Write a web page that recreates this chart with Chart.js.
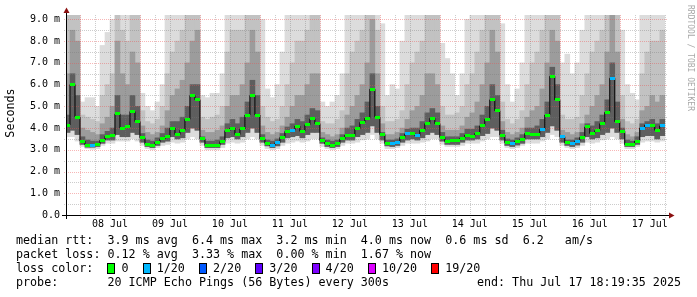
<!DOCTYPE html>
<html><head><meta charset="utf-8">
<script src="https://cdn.jsdelivr.net/npm/chart.js@4/dist/chart.umd.min.js"></script>
<style>html,body{margin:0;padding:0;background:#fff}#wrap{width:697px;height:297px;position:relative}</style>
</head><body><div id="wrap"><canvas id="c"></canvas></div>
<script>
// hours since 08 Jul 00:00 (bucket centres, 2 h buckets)
const hours = [
-5,-3,-1,1,3,5,7,9,11,13,15,17,
19,21,23,25,27,29,31,33,35,37,39,41,
43,45,47,49,51,53,55,57,59,61,63,65,
67,69,71,73,75,77,79,81,83,85,87,89,
91,93,95,97,99,101,103,105,107,109,111,113,
115,117,119,121,123,125,127,129,131,133,135,137,
139,141,143,145,147,149,151,153,155,157,159,161,
163,165,167,169,171,173,175,177,179,181,183,185,
187,189,191,193,195,197,199,201,203,205,207,209,
211,213,215,217,219,221,223,225,227,229,231,233];
// median rtt (ms)
const median = [
4.14,6.0,4.5,3.4,3.22,3.22,3.25,3.45,3.62,3.65,4.65,4.0,
4.05,4.76,4.3,3.55,3.25,3.21,3.35,3.5,3.6,4.0,3.7,3.9,
4.4,5.5,5.3,3.5,3.2,3.19,3.2,3.38,3.88,4.0,3.7,3.96,
4.6,5.5,4.6,3.5,3.3,3.19,3.32,3.57,3.84,3.9,4.09,3.85,
4.15,4.42,4.2,3.43,3.27,3.19,3.27,3.5,3.68,3.65,3.96,4.26,
4.45,5.79,4.5,3.7,3.29,3.27,3.35,3.57,3.73,3.75,3.65,3.9,
4.2,4.45,4.2,3.57,3.38,3.42,3.43,3.53,3.68,3.62,3.75,4.1,
4.4,5.3,4.8,3.68,3.33,3.27,3.4,3.47,3.75,3.72,3.7,3.95,
4.6,6.38,5.3,3.6,3.32,3.28,3.4,3.57,4.05,3.75,3.88,4.2,
4.72,6.29,4.3,3.85,3.24,3.24,3.4,4.0,4.14,4.1,3.9,4.1];
// loss level index (0 = 0/20, 1 = 1/20 ...)
const loss = [
0,0,0,0,0,1,0,0,0,0,0,0,
0,0,0,0,0,0,0,0,0,0,0,0,
0,0,0,0,0,0,0,0,0,0,0,0,
0,0,0,0,0,1,1,0,0,1,0,0,
0,0,0,0,0,0,0,0,0,0,0,0,
0,0,0,0,0,1,1,0,1,0,1,0,
0,0,0,0,0,0,0,0,0,0,0,0,
0,0,0,0,0,1,0,0,0,0,0,1,
0,0,0,1,0,1,1,0,0,0,0,0,
0,1,0,0,0,0,0,1,1,0,0,1];
// smoke envelope (ms)
const smokeTop = [
9.2,9.2,9.2,5.2,5.4,5.4,5.0,7.8,8.4,9.0,9.2,9.2,
9.2,9.2,9.2,5.6,5.0,4.8,5.2,6.0,9.2,9.2,9.2,9.2,
9.2,9.2,9.2,5.5,5.4,5.6,5.6,6.5,9.2,9.2,9.2,9.2,
9.2,9.2,9.2,9.0,5.8,5.4,6.0,7.5,9.2,9.2,9.2,9.2,
9.2,9.2,9.2,5.2,5.0,5.2,5.5,6.5,9.2,9.2,9.2,9.2,
9.2,9.2,9.2,8.8,5.5,6.0,5.8,8.0,9.2,9.2,9.2,9.2,
9.2,9.2,9.2,7.9,7.2,6.5,5.5,6.5,9.0,9.2,9.2,9.2,
9.2,9.2,9.2,8.8,6.0,5.2,5.8,7.0,9.2,9.2,9.2,9.2,
9.2,9.2,9.2,7.0,7.4,6.5,7.0,8.5,9.2,9.2,9.2,9.2,
9.2,9.2,9.2,8.5,6.0,5.6,5.3,9.2,9.2,9.2,9.2,9.2];
const smokeHi2 = [
9.2,9.2,9.2,4.6,4.5,4.4,4.3,5.5,6.0,6.5,9.2,8.5,
8.0,9.2,9.2,4.8,4.3,4.2,4.4,5.0,6.5,7.5,8.0,8.5,
9.2,9.2,9.2,4.5,4.4,4.5,4.6,5.0,7.5,8.5,8.5,8.5,
9.2,9.2,9.2,5.0,4.5,4.3,4.4,5.0,6.0,7.0,8.0,8.0,
8.5,9.2,9.2,4.3,4.2,4.2,4.4,4.8,6.5,7.5,8.0,8.5,
9.2,9.2,8.5,5.0,4.3,4.3,4.4,4.8,6.0,7.0,7.5,8.0,
9.2,9.2,9.2,5.0,4.6,4.6,4.7,5.0,6.0,6.5,7.5,8.5,
9.2,9.2,9.2,5.2,4.4,4.2,4.4,4.8,6.0,7.0,7.5,8.5,
9.2,9.2,9.2,4.6,4.4,4.4,4.5,5.5,6.5,7.5,8.0,8.5,
9.2,9.2,9.2,5.5,4.3,4.2,4.4,6.5,7.5,8.0,8.0,8.5];
const smokeHi3 = [
6.5,8.5,8.0,4.0,3.9,3.8,3.7,4.2,4.5,5.0,8.0,6.5,
6.0,7.5,7.0,4.1,3.8,3.7,3.8,4.1,4.8,5.5,5.8,6.2,
7.0,8.0,8.5,3.9,3.8,3.8,3.9,4.1,5.0,5.5,5.5,6.0,
7.0,8.5,7.5,4.1,3.8,3.7,3.8,4.1,4.5,5.0,5.5,5.5,
6.0,6.5,6.5,3.8,3.7,3.6,3.7,4.0,4.6,5.0,5.5,6.0,
7.0,9.0,6.5,4.2,3.7,3.7,3.8,4.0,4.4,4.8,5.0,5.5,
6.5,6.5,6.0,4.1,3.9,3.9,3.9,4.1,4.5,4.7,5.2,6.0,
7.0,8.5,7.5,4.3,3.8,3.7,3.8,4.0,4.5,4.8,5.0,5.8,
7.0,8.5,8.0,3.9,3.8,3.7,3.8,4.2,4.6,5.0,5.5,6.0,
7.5,9.2,7.5,4.4,3.7,3.6,3.8,4.8,5.0,5.5,5.2,5.5];
const smokeHi4 = [
4.6,6.5,5.5,3.6,3.45,3.4,3.4,3.7,3.85,4.0,5.5,4.6,
4.6,5.5,5.0,3.75,3.45,3.4,3.55,3.75,4.0,4.3,4.3,4.5,
5.0,6.0,6.0,3.6,3.4,3.4,3.45,3.6,4.2,4.4,4.2,4.5,
5.2,6.2,5.5,3.7,3.45,3.4,3.5,3.75,4.05,4.2,4.4,4.3,
4.6,4.9,4.8,3.55,3.45,3.4,3.45,3.7,4.0,4.1,4.4,4.7,
5.2,6.5,5.0,3.8,3.45,3.45,3.5,3.75,3.95,4.0,4.0,4.3,
4.7,4.9,4.7,3.8,3.6,3.6,3.6,3.75,3.95,3.95,4.1,4.6,
5.0,6.0,5.5,3.9,3.5,3.45,3.55,3.7,4.0,4.0,4.1,4.4,
5.2,6.8,6.0,3.6,3.45,3.45,3.55,3.8,4.2,4.1,4.3,4.6,
5.3,7.0,5.2,4.0,3.45,3.4,3.6,4.2,4.3,4.4,4.2,4.4];
const smokeMin = [
3.6,3.6,3.4,3.15,3.05,3.02,3.05,3.2,3.3,3.3,3.4,3.4,
3.4,3.5,3.4,3.2,3.05,3.0,3.1,3.2,3.25,3.35,3.3,3.35,
3.5,3.6,3.5,3.2,3.0,3.0,3.0,3.1,3.3,3.35,3.3,3.35,
3.5,3.6,3.5,3.2,3.05,3.0,3.05,3.2,3.3,3.35,3.4,3.35,
3.4,3.5,3.5,3.15,3.05,3.0,3.05,3.2,3.3,3.3,3.35,3.45,
3.5,3.7,3.5,3.3,3.05,3.05,3.1,3.2,3.3,3.3,3.3,3.35,
3.4,3.5,3.5,3.25,3.15,3.15,3.15,3.2,3.3,3.3,3.3,3.4,
3.5,3.6,3.6,3.3,3.1,3.05,3.1,3.2,3.3,3.3,3.3,3.4,
3.5,3.7,3.6,3.2,3.1,3.05,3.1,3.2,3.35,3.3,3.35,3.45,
3.5,3.6,3.5,3.3,3.05,3.05,3.15,3.35,3.4,3.4,3.35,3.4];
const smokeLow = [
3.8,3.9,3.7,3.25,3.12,3.12,3.15,3.3,3.45,3.45,3.7,3.6,
3.6,3.8,3.7,3.35,3.15,3.1,3.2,3.35,3.4,3.6,3.5,3.55,
3.8,4.0,3.9,3.35,3.1,3.1,3.1,3.25,3.55,3.6,3.5,3.6,
3.8,4.0,3.8,3.35,3.18,3.1,3.18,3.35,3.55,3.6,3.65,3.55,
3.7,3.8,3.8,3.3,3.15,3.1,3.15,3.35,3.45,3.45,3.6,3.7,
3.8,4.1,3.8,3.45,3.18,3.15,3.2,3.35,3.45,3.5,3.45,3.55,
3.7,3.8,3.7,3.4,3.25,3.25,3.25,3.35,3.45,3.45,3.5,3.65,
3.75,4.0,3.9,3.45,3.2,3.15,3.22,3.3,3.5,3.5,3.5,3.6,
3.8,4.1,3.9,3.35,3.2,3.15,3.22,3.35,3.6,3.5,3.55,3.7,
3.8,4.0,3.8,3.5,3.15,3.15,3.25,3.6,3.65,3.65,3.5,3.65];

const dayLabels = ['08 Jul','09 Jul','10 Jul','11 Jul','12 Jul','13 Jul','14 Jul','15 Jul','16 Jul','17 Jul'];
const yLabels = ['0.0','1.0 m','2.0 m','3.0 m','4.0 m','5.0 m','6.0 m','7.0 m','8.0 m','9.0 m'];
const lossLabels = ['0','1/20','2/20','3/20','4/20','10/20','19/20'];
const lossColors = ['#00ff00','#00b8ff','#0059ff','#5e00ff','#7e00ff','#dd00ff','#ff0000'];
const legendLines = [
 'median rtt:  3.9 ms avg  6.4 ms max  3.2 ms min  4.0 ms now  0.6 ms sd  6.2   am/s',
 'packet loss: 0.12 % avg  3.33 % max  0.00 % min  1.67 % now',
 'loss color:',
 'probe:       20 ICMP Echo Pings (56 Bytes) every 300s'
];
const endText = 'end: Thu Jul 17 18:19:35 2025';

const MONO = '"DejaVu Sans Mono", monospace';
const swatch = lossColors.map(c => {
  const cv = document.createElement('canvas'); cv.width = 5; cv.height = 3;
  const g = cv.getContext('2d'); g.fillStyle = c; g.fillRect(0,0,5,3); return cv;
});
const band = (lo, hi) => hours.map((h,i) => ({x:h, y:[lo[i], hi[i]]}));
const barCommon = {type:'bar', grouped:false, barThickness:5, borderWidth:0, inflateAmount:0.3};

const MAJ = 'rgba(235,80,80,0.42)', MINC = 'rgba(120,120,120,0.38)';
const overlay = {
  id:'overlay',
  beforeDraw(chart){ const c=chart.ctx; c.save(); c.fillStyle='#fff'; c.fillRect(0,0,chart.width,chart.height); c.restore(); },
  afterDatasetDraw(chart, args){
    if (args.index !== 3) return;
    const {ctx, chartArea:a, scales:{x,y}} = chart;
    ctx.save(); ctx.lineWidth = 1; ctx.setLineDash([1,1]);
    for (const pass of [false,true]) {
      y.ticks.forEach(t => {
        if (t.value === 0) return;
        const maj = Number.isInteger(t.value); if (maj !== pass) return;
        const py = Math.round(y.getPixelForValue(t.value)) + 0.5;
        ctx.strokeStyle = maj ? MAJ : MINC;
        ctx.beginPath(); ctx.moveTo(a.left-3, py); ctx.lineTo(a.right, py); ctx.stroke();
      });
      x.ticks.forEach(t => {
        const maj = t.value % 24 === 0; if (maj !== pass) return;
        const px = Math.round(x.getPixelForValue(t.value)) + 0.5;
        ctx.strokeStyle = maj ? MAJ : MINC;
        ctx.beginPath(); ctx.moveTo(px, a.bottom+3); ctx.lineTo(px, a.top); ctx.stroke();
      });
    }
    ctx.restore();
  },
  afterDraw(chart){
    const {ctx, chartArea:a} = chart;
    ctx.save();
    ctx.setLineDash([]); ctx.lineWidth = 1; ctx.strokeStyle = '#000';
    ctx.beginPath(); ctx.moveTo(62, a.bottom+0.5); ctx.lineTo(a.right+3, a.bottom+0.5); ctx.stroke();
    ctx.beginPath(); ctx.moveTo(a.left-0.5, a.bottom+4); ctx.lineTo(a.left-0.5, a.top-2); ctx.stroke();
    ctx.fillStyle = '#8b1010';
    ctx.beginPath(); ctx.moveTo(a.right+2, a.bottom-2.5); ctx.lineTo(a.right+2, a.bottom+3.5); ctx.lineTo(a.right+7.5, a.bottom+0.5); ctx.closePath(); ctx.fill();
    ctx.beginPath(); ctx.moveTo(a.left-3.5, a.top-2); ctx.lineTo(a.left+2.5, a.top-2); ctx.lineTo(a.left-0.5, a.top-7.5); ctx.closePath(); ctx.fill();
    // y title
    ctx.fillStyle = '#000'; ctx.font = '11.7px ' + MONO; ctx.textAlign = 'center'; ctx.textBaseline = 'middle';
    ctx.save(); ctx.translate(11, 113); ctx.rotate(-Math.PI/2); ctx.fillText('Seconds', 0, 0); ctx.restore();
    // watermark
    ctx.save(); ctx.translate(690, 5); ctx.rotate(Math.PI/2); ctx.font = '8px ' + MONO; ctx.fillStyle = '#a8a8a8';
    ctx.textAlign = 'left'; ctx.fillText('RRDTOOL / TOBI OETIKER', 0, 0); ctx.restore();
    // legend
    ctx.font = '11.7px ' + MONO; ctx.textAlign = 'left'; ctx.textBaseline = 'middle'; ctx.fillStyle = '#000';
    const cw = ctx.measureText('0').width;
    const ys = [241, 255, 269, 283];
    legendLines.forEach((s,i) => ctx.fillText(s, 16, ys[i]));
    let idx = legendLines[2].length + 2;
    lossLabels.forEach((lab, i) => {
      const bx = Math.round(16 + idx*cw) + 0.5;
      ctx.fillStyle = lossColors[i]; ctx.fillRect(bx, ys[2]-5.5, 7, 10);
      ctx.strokeStyle = '#000'; ctx.strokeRect(bx, ys[2]-5.5, 7, 10);
      idx += 2;
      ctx.fillStyle = '#000'; ctx.fillText(lab, 16 + idx*cw, ys[2]);
      idx += lab.length + 2;
    });
    ctx.textAlign = 'right';
    ctx.fillText(endText, 681, ys[3]);
    ctx.restore();
  }
};

new Chart(document.getElementById('c'), {
  type:'bar',
  data:{ datasets:[
    Object.assign({data:band(smokeMin, smokeTop), backgroundColor:'#dcdcdc', order:14}, barCommon),
    Object.assign({data:band(smokeLow, smokeHi2), backgroundColor:'#c2c2c2', order:13}, barCommon),
    Object.assign({data:band(smokeLow, smokeHi3), backgroundColor:'#9c9c9c', order:12}, barCommon),
    Object.assign({data:band(smokeLow, smokeHi4), backgroundColor:'#5e5e5e', order:11}, barCommon),
    {type:'line', data:hours.map((h,i)=>({x:h, y:median[i]})), stepped:'middle', borderColor:'#000', borderWidth:1,
     pointStyle:(c)=>swatch[loss[c.dataIndex]], pointRadius:2, order:1}
  ]},
  options:{
    responsive:true, maintainAspectRatio:false, animation:false, events:[],
    layout:{padding:{left:0, right:30, top:15, bottom:0}},
    plugins:{legend:{display:false}, tooltip:{enabled:false}},
    scales:{
      x:{type:'linear', offset:false, min:-5.2, max:234.9,
         grid:{display:false, drawTicks:false}, border:{display:false},
         afterFit:(s)=>{ s.height = 82; },
         ticks:{stepSize:6, autoSkip:false, maxRotation:0, includeBounds:false, padding:3,
                font:{family:MONO, size:10}, color:'#000',
                callback:(v)=> (v % 24 === 12) ? dayLabels[(v-12)/24] : ''}},
      y:{type:'linear', min:0, max:9.2,
         grid:{display:false, drawTicks:false}, border:{display:false},
         afterFit:(s)=>{ s.width = 67; },
         ticks:{stepSize:0.5, autoSkip:false, includeBounds:false, padding:7,
                font:{family:MONO, size:10}, color:'#000',
                callback:(v)=> Number.isInteger(v) ? yLabels[v] : ''}}
    }
  },
  plugins:[overlay]
});
</script>
</body></html>
